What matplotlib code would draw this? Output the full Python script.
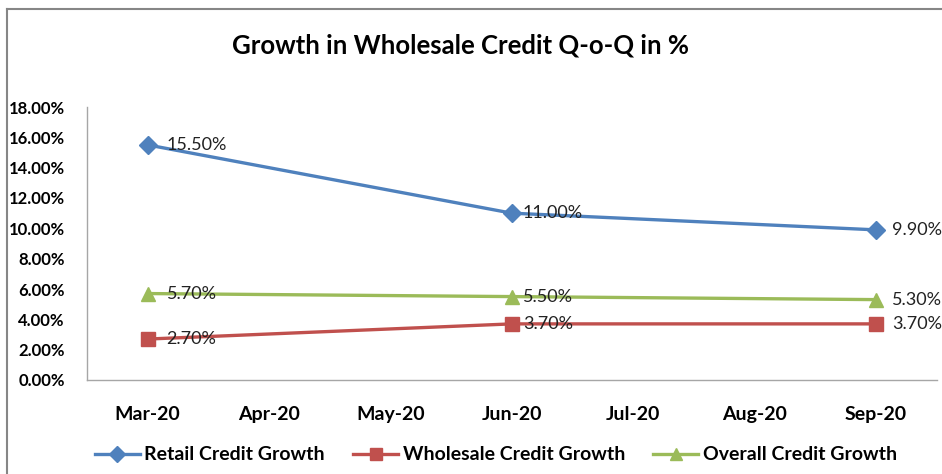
import matplotlib
matplotlib.use("Agg")
import matplotlib.pyplot as plt
from matplotlib.lines import Line2D
from matplotlib.ticker import FuncFormatter, MultipleLocator

months = ["Mar-20", "Apr-20", "May-20", "Jun-20", "Jul-20", "Aug-20", "Sep-20"]
point_months = ["Mar-20", "Jun-20", "Sep-20"]
retail = [15.5, 11.0, 9.9]
wholesale = [2.7, 3.7, 3.7]
overall = [5.7, 5.5, 5.3]
series_names = ["Retail Credit Growth", "Wholesale Credit Growth", "Overall Credit Growth"]
title = "Growth in Wholesale Credit Q-o-Q in %"

plt.rcParams['font.family'] = ['Lato', 'DejaVu Sans']

fig = plt.figure(figsize=(9.42, 4.74), dpi=100)
ax = fig.add_axes([87/942, 1-380/474, (936.5-87)/942, (380-107)/474])

xpos = [months.index(m) for m in point_months]
label_offsets = [19, 11, 16]
styles = [
    (retail, "#4F81BD", "D", 9),
    (wholesale, "#C0504D", "s", 10),
    (overall, "#9BBB59", "^", 10),
]
for (vals, col, mk, ms), name in zip(styles, series_names):
    ax.plot(xpos, vals, color=col, lw=2.4, marker=mk, ms=ms, label=name)
    for x, v, off in zip(xpos, vals, label_offsets):
        ax.annotate(f"{v:.2f}%", (x, v), xytext=(off, 0), textcoords="offset pixels",
                    ha="left", va="center", fontsize=13, color="#222222",
                    annotation_clip=False)

ax.set_xlim(-0.5, len(months) - 0.5)
ax.set_ylim(0, 18)
ax.set_xticks(range(len(months)))
ax.set_xticklabels(months, fontsize=14, fontweight="bold")
ax.yaxis.set_major_locator(MultipleLocator(2))
ax.yaxis.set_major_formatter(FuncFormatter(lambda v, p: f"{v:.2f}%"))
for lbl in ax.get_yticklabels():
    lbl.set_fontweight("bold")
    lbl.set_fontsize(12)
ax.tick_params(axis="both", length=0)
ax.tick_params(axis="x", pad=19)
ax.tick_params(axis="y", pad=16)
for s in ["top", "right"]:
    ax.spines[s].set_visible(False)
for s in ["left", "bottom"]:
    ax.spines[s].set_color("#A6A6A6")
    ax.spines[s].set_linewidth(1.0)

fig.text(460/942, 1-45/474, title, ha="center", va="center", fontsize=18.5, fontweight="bold")

leg = fig.legend(loc="center", bbox_to_anchor=(496/942, 1-455/474), ncol=3, frameon=False,
                 prop={"weight": "bold", "size": 14}, handlelength=2.3, columnspacing=1.45,
                 handletextpad=0.25, markerscale=0.9)

# chart outer border (left and top visible)
fig.add_artist(Line2D([7/942, 7/942], [0, 1-9/474], color="#868686", lw=1.5, transform=fig.transFigure))
fig.add_artist(Line2D([7/942, 1], [1-9/474, 1-9/474], color="#868686", lw=1.5, transform=fig.transFigure))

fig.savefig("out.png", dpi=100)
